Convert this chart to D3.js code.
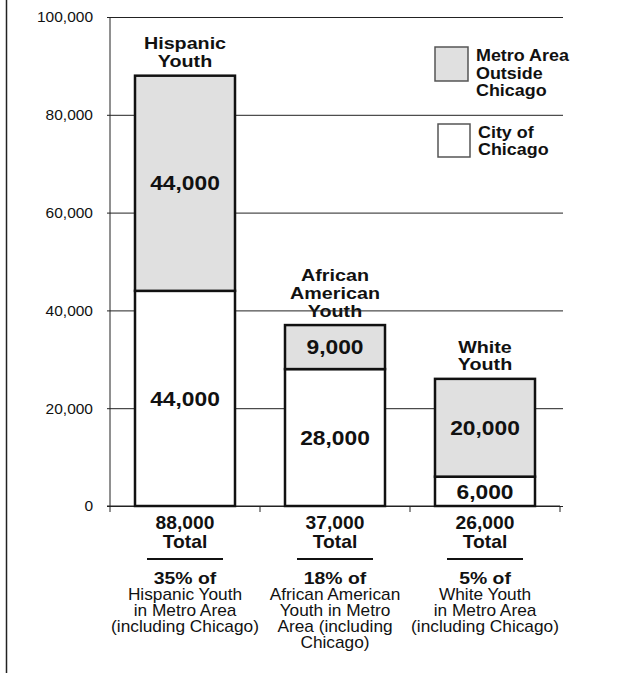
<!DOCTYPE html>
<html>
<head>
<meta charset="utf-8">
<script src="https://cdn.jsdelivr.net/npm/d3@7"></script>
<style>
  html, body { margin: 0; padding: 0; background: #fff; }
  svg { display: block; }
  text { font-family: "Liberation Sans", Arial, Helvetica, sans-serif; fill: #111; }
</style>
</head>
<body>
<svg id="chart" width="618" height="673"></svg>
<script>
// Youth population in the Chicago metro area, by group
const categories = ["Hispanic", "African American", "White"];
const groupTitles = [["Hispanic", "Youth"], ["African", "American", "Youth"], ["White", "Youth"]];
const cityValues = [44000, 28000, 6000];    // City of Chicago
const metroValues = [44000, 9000, 20000];   // Metro area outside Chicago
const shareLabels = ["35% of", "18% of", "5% of"];
const shareNotes = [
  ["Hispanic Youth", "in Metro Area", "(including Chicago)"],
  ["African American", "Youth in Metro", "Area (including", "Chicago)"],
  ["White Youth", "in Metro Area", "(including Chicago)"]
];
const yTicks = [0, 20000, 40000, 60000, 80000, 100000];
const legendLabels = [["Metro Area", "Outside", "Chicago"], ["City of", "Chicago"]];

const fmt = d3.format(",");
const GRAY = "#e0e0e0";

const svg = d3.select("#chart");

// frame line on the left edge
svg.append("line")
  .attr("x1", 6.5).attr("x2", 6.5).attr("y1", 0).attr("y2", 673)
  .attr("stroke", "#222").attr("stroke-width", 1.5);

const x = d3.scaleBand().domain(categories).range([110, 560])
  .paddingInner(1 / 3).paddingOuter(1 / 6);
const y = d3.scaleLinear().domain([0, 100000]).range([506, 17]);

const rows = categories.map((c, i) => ({
  cat: c, city: cityValues[i], metro: metroValues[i], total: cityValues[i] + metroValues[i], i
}));

// multi-line text helper; the type is set slightly wide (horizontal scale sx)
function lines(parent, arr, cx, y0, step, size, weight, anchor, sx) {
  const g = parent.append("g").attr("transform", `translate(${cx},0) scale(${sx || 1},1)`);
  const t = g.append("text")
    .attr("text-anchor", anchor || "middle")
    .attr("font-size", size)
    .attr("font-weight", weight);
  arr.forEach((s, k) => t.append("tspan").attr("x", 0).attr("y", y0 + k * step).text(s));
  return t;
}

// group titles above each bar (drawn below the grid lines)
rows.forEach(r => {
  const t = groupTitles[r.i];
  const cx = x(r.cat) + x.bandwidth() / 2;
  const lastBase = y(r.total) - 8.5;
  lines(svg, t, cx, lastBase - (t.length - 1) * 17.7, 17.7, 17, "bold", "middle", 1.16);
});

// grid lines and y axis
const yAxis = d3.axisLeft(y)
  .tickValues(yTicks)
  .tickFormat(d => fmt(d))
  .tickSize(-453)
  .tickPadding(17);
const ya = svg.append("g").attr("transform", "translate(110,0)").call(yAxis);
ya.select(".domain").remove();
ya.selectAll(".tick line").attr("x1", -3).attr("stroke", "#222").attr("stroke-width", 1);
ya.selectAll(".tick text")
  .attr("font-size", 15.5)
  .attr("font-family", "Liberation Sans, Arial, sans-serif")
  .attr("fill", "#222");
svg.append("line")
  .attr("x1", 110).attr("x2", 110).attr("y1", y(100000)).attr("y2", y(0))
  .attr("stroke", "#222").attr("stroke-width", 1);

// x axis with boundary ticks between groups
const bounds = [110, 260, 410, 560];
svg.append("line").attr("x1", 107).attr("x2", 560).attr("y1", y(0)).attr("y2", y(0))
  .attr("stroke", "#222").attr("stroke-width", 1);
svg.selectAll("line.bound").data(bounds).join("line")
  .attr("class", "bound")
  .attr("x1", d => d).attr("x2", d => d)
  .attr("y1", y(0)).attr("y2", y(0) + 6)
  .attr("stroke", "#222").attr("stroke-width", 1);

// stacked bars
const bars = svg.append("g");
rows.forEach(r => {
  const x0 = x(r.cat), w = x.bandwidth();
  bars.append("rect")
    .attr("x", x0).attr("y", y(r.city)).attr("width", w).attr("height", y(0) - y(r.city))
    .attr("fill", "#fff").attr("stroke", "#111").attr("stroke-width", 2.5);
  bars.append("rect")
    .attr("x", x0).attr("y", y(r.total)).attr("width", w).attr("height", y(r.city) - y(r.total))
    .attr("fill", GRAY).attr("stroke", "#111").attr("stroke-width", 2.5);
  const cx = x0 + w / 2;
  lines(bars, [fmt(r.city)], cx, (y(r.city) + y(0)) / 2 + 7.2, 0, 20, "bold", "middle", 1.14);
  lines(bars, [fmt(r.metro)], cx, (y(r.total) + y(r.city)) / 2 + 7.2, 0, 20, "bold", "middle", 1.14);
});

// totals and shares under each bar
rows.forEach(r => {
  const cx = x(r.cat) + x.bandwidth() / 2;
  lines(svg, [fmt(r.total), "Total"], cx, 529, 19, 17.5, "bold", "middle", 1.1);
  svg.append("line")
    .attr("x1", cx - 38).attr("x2", cx + 38).attr("y1", 559).attr("y2", 559)
    .attr("stroke", "#111").attr("stroke-width", 2);
  lines(svg, [shareLabels[r.i]], cx, 584, 16, 17, "bold", "middle", 1.14);
  lines(svg, shareNotes[r.i], cx, 600.5, 16, 16, "normal", "middle", 1.08);
});

// legend
const legend = [
  { fill: GRAY, box: [435, 47, 33, 34], tx: 476, ty: 61.5 },
  { fill: "#fff", box: [438, 124, 32, 33], tx: 478, ty: 138 }
];
legend.forEach((l, i) => {
  svg.append("rect")
    .attr("x", l.box[0]).attr("y", l.box[1]).attr("width", l.box[2]).attr("height", l.box[3])
    .attr("fill", l.fill).attr("stroke", "#555").attr("stroke-width", 1.5);
  lines(svg, legendLabels[i], l.tx, l.ty, 17.5, 16, "bold", "start", 1.12);
});
</script>
</body>
</html>
